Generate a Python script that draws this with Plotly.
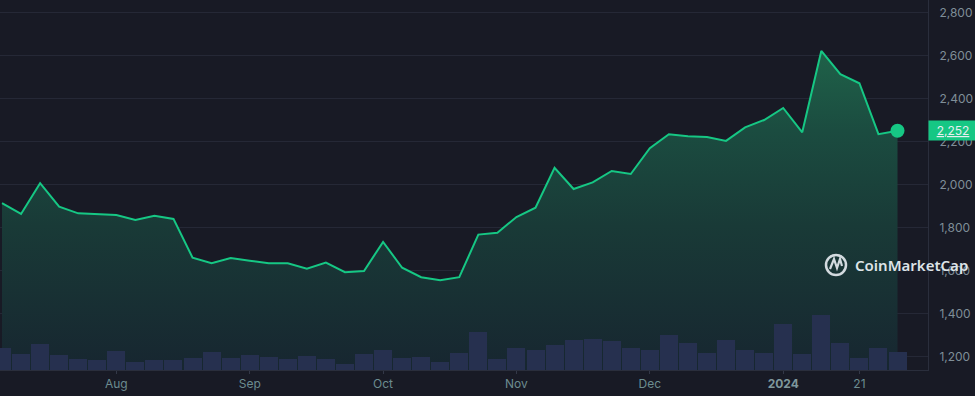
import plotly.graph_objects as go

# ---- data ----
prices = [1915, 1865, 2008, 1899, 1868, 1865, 1860, 1837, 1857, 1842,
          1662, 1636, 1660, 1648, 1636, 1636, 1611, 1639, 1594, 1600,
          1735, 1615, 1571, 1557, 1571, 1769, 1778, 1851, 1894, 2080,
          1981, 2012, 2065, 2051, 2171, 2236, 2226, 2223, 2205, 2268,
          2302, 2358, 2245, 2623, 2515, 2473, 2236, 2252]
volumes = [11, 8, 13, 7.5, 5.5, 5, 9.5, 4, 5, 5,
           6, 9, 6, 7.5, 6.5, 5.5, 7, 5.5, 3, 8,
           10, 6, 6.5, 4, 8.5, 19, 5.5, 11, 10, 12.5,
           15, 15.5, 14.5, 11, 10, 17.5, 13.5, 8.5, 15, 10,
           8.5, 23, 8, 27.5, 13.5, 6, 11, 9]
idx = list(range(len(prices)))
x_tick_pos = [6, 13, 20, 27, 34, 41, 45]
x_tick_text = ["Aug", "Sep", "Oct", "Nov", "Dec", "2024", "21"]
y_ticks = [1200, 1400, 1600, 1800, 2000, 2200, 2400, 2600, 2800]
last_price_label = "2,252"

BG = "#181a25"
GRID = "#252836"
GREEN = "#16c784"
LABEL = "#7f8e98"
XLABEL = "#6c8c90"

tick_text_fmt = [
    f"<span style='color:#7f979c;font-weight:bold'>{t}</span>" if t == "2024" else t
    for t in x_tick_text
]

fig = go.Figure()

fig.add_trace(go.Scatter(
    x=idx, y=prices, mode="lines",
    line=dict(color=GREEN, width=2),
    fill="tozeroy",
    fillgradient=dict(type="vertical", start=1139, stop=2623,
                      colorscale=[[0, "#172630"], [0.45, "#193a37"], [0.75, "#1b4c40"], [1, "#1f6249"]]),
    hoverinfo="skip", showlegend=False, yaxis="y",
))

fig.add_trace(go.Scatter(
    x=[idx[-1]], y=[prices[-1]], mode="markers",
    marker=dict(color=GREEN, size=14),
    hoverinfo="skip", showlegend=False, yaxis="y",
))

fig.add_trace(go.Bar(
    x=idx, y=volumes, marker=dict(color="#26304f", line=dict(width=0)),
    width=0.945, hoverinfo="skip", showlegend=False, yaxis="y2",
))

fig.update_layout(
    width=975, height=396,
    margin=dict(l=0, r=47, t=0, b=26, autoexpand=False),
    paper_bgcolor=BG, plot_bgcolor=BG,
    font=dict(family="Inter, Noto Sans, sans-serif", size=12, color=LABEL),
    xaxis=dict(
        range=[-0.105, 48.6], showgrid=False, zeroline=False, automargin=False,
        tickmode="array", tickvals=x_tick_pos, ticktext=tick_text_fmt,
        ticks="outside", ticklen=3, tickcolor="#333848",
        showline=True, linecolor="#2a2e3c", linewidth=1,
        tickfont=dict(color=XLABEL, size=12),
    ),
    yaxis=dict(
        range=[1139.5, 2860], side="right", showgrid=True, gridcolor=GRID,
        gridwidth=1, zeroline=False, automargin=False,
        tickmode="array", tickvals=y_ticks,
        ticktext=[f"{v:,}" for v in y_ticks],
        ticks="outside", ticklen=8, tickcolor="rgba(0,0,0,0)",
        showline=True, linecolor="#2a2e3c", linewidth=1,
        tickfont=dict(color=LABEL, size=12),
    ),
    yaxis2=dict(
        range=[0, 185], overlaying="y", side="right", showgrid=False,
        zeroline=False, showticklabels=False, showline=False, automargin=False,
    ),
    bargap=0,
    shapes=[
        dict(type="circle", xref="paper", yref="paper",
             x0=826 / 928, x1=846 / 928, y0=1 - 275 / 370, y1=1 - 255 / 370,
             line=dict(color="#d3dadf", width=2.5), layer="above"),
        dict(type="path", xref="paper", yref="paper",
             path=(f"M {830/928} {1-269/370} L {834/928} {1-259/370} "
                   f"L {837/928} {1-268/370} L {840/928} {1-259/370} L {842/928} {1-266/370}"),
             line=dict(color="#d3dadf", width=2.2), layer="above"),
    ],
    annotations=[
        dict(xref="paper", yref="paper", x=853 / 928, y=1 - 265 / 370,
             xanchor="left", yanchor="middle", showarrow=False,
             text="CoinMarketCap",
             font=dict(family="Noto Sans, sans-serif", size=15, color="#dde3e7", weight=600)),
        dict(xref="paper", yref="y", x=1, y=prices[-1], xanchor="left",
             yanchor="middle", showarrow=False, text=f"<u>{last_price_label}</u>",
             bgcolor=GREEN, width=44, height=15, borderpad=2,
             font=dict(color="#e8eef0", size=12)),
    ],
)

fig.write_html("out.html", config={"displayModeBar": False},
               post_script="document.body.style.margin='0';document.body.style.background='#181a25';")
